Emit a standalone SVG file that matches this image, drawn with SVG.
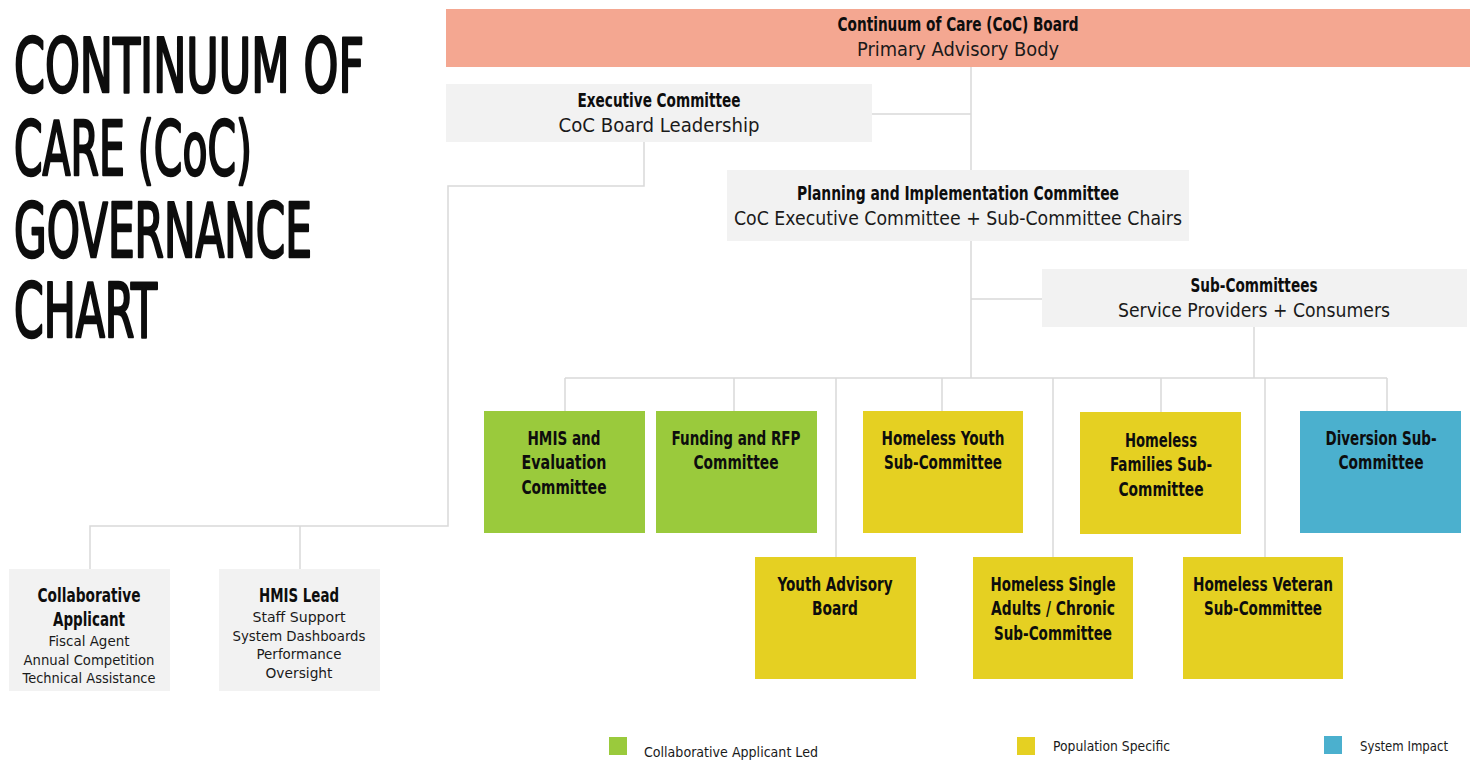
<svg xmlns="http://www.w3.org/2000/svg" width="1477" height="762" viewBox="0 0 1477 762">
  <style>
    .title { font-family: "Liberation Sans Narrow", "DejaVu Sans Condensed", "Liberation Sans", sans-serif; font-size: 74px; fill: #0d0d0d; stroke: #0d0d0d; stroke-width: 2.6; stroke-linejoin: round; }
    .b { font-family: "Liberation Sans Narrow", "DejaVu Sans Condensed", "Liberation Sans", sans-serif; font-weight: bold; font-size: 20px; fill: #0d0d0d; text-anchor: middle; }
    .b19 { font-size: 19px; }
    .r { font-family: "DejaVu Sans", "Liberation Sans", sans-serif; font-size: 19px; fill: #1a1a1a; text-anchor: middle; }
    .s { font-family: "DejaVu Sans", "Liberation Sans", sans-serif; font-size: 14px; fill: #1a1a1a; text-anchor: middle; }
    .lg { font-family: "Liberation Sans Narrow", "DejaVu Sans Condensed", "Liberation Sans", sans-serif; font-size: 14px; fill: #1a1a1a; }
    .gray { fill: #f2f2f2; }
    .board { fill: #f4a791; }
    .green { fill: #9aca3c; }
    .yellow { fill: #e5d022; }
    .blue { fill: #4bb0ce; }
    .conn { fill: none; stroke: #d9d9d9; stroke-width: 1.5; }
  </style>

  <rect width="1477" height="762" fill="#ffffff"/>

  <!-- heading -->
  <g id="title">
    <text class="title" x="14" y="92" textLength="350" lengthAdjust="spacingAndGlyphs">CONTINUUM OF</text>
    <text class="title" x="14" y="175" textLength="238" lengthAdjust="spacingAndGlyphs">CARE (CoC)</text>
    <text class="title" x="14" y="257" textLength="298" lengthAdjust="spacingAndGlyphs">GOVERNANCE</text>
    <text class="title" x="14" y="337" textLength="143" lengthAdjust="spacingAndGlyphs">CHART</text>
  </g>

  <!-- connectors -->
  <g id="connectors">
    <path class="conn" d="M971,67 V378"/>
    <path class="conn" d="M872,114 H971"/>
    <path class="conn" d="M971,299 H1042"/>
    <path class="conn" d="M1254,327 V378"/>
    <path class="conn" d="M565,378 H1387"/>
    <path class="conn" d="M565,378 V411 M734,378 V411 M942,378 V411 M1161,378 V413 M1387,378 V411"/>
    <path class="conn" d="M836,378 V557 M1053,378 V557 M1265,378 V557"/>
    <path class="conn" d="M644,142 V186 H448 V526 H90 V569"/>
    <path class="conn" d="M300,526 V569"/>
  </g>

  <g id="coc-board">
    <rect class="board" x="446" y="9" width="1024" height="58"/>
    <text class="b b19" x="958" y="31" textLength="241" lengthAdjust="spacingAndGlyphs">Continuum of Care (CoC) Board</text>
    <text class="r" x="958" y="56" textLength="202" lengthAdjust="spacingAndGlyphs">Primary Advisory Body</text>
  </g>

  <g id="executive-committee">
    <rect class="gray" x="446" y="84" width="426" height="58"/>
    <text class="b b19" x="659" y="107" textLength="163" lengthAdjust="spacingAndGlyphs">Executive Committee</text>
    <text class="r" x="659" y="132" textLength="201" lengthAdjust="spacingAndGlyphs">CoC Board Leadership</text>
  </g>

  <g id="planning-committee">
    <rect class="gray" x="727" y="170" width="462" height="71"/>
    <text class="b b19" x="958" y="200" textLength="322" lengthAdjust="spacingAndGlyphs">Planning and Implementation Committee</text>
    <text class="r" x="958" y="225" textLength="448" lengthAdjust="spacingAndGlyphs">CoC Executive Committee + Sub-Committee Chairs</text>
  </g>

  <g id="sub-committees">
    <rect class="gray" x="1042" y="269" width="425" height="58"/>
    <text class="b b19" x="1254" y="292" textLength="127" lengthAdjust="spacingAndGlyphs">Sub-Committees</text>
    <text class="r" x="1254" y="317" textLength="272" lengthAdjust="spacingAndGlyphs">Service Providers + Consumers</text>
  </g>

  <g id="hmis-evaluation">
    <rect class="green" x="484" y="411" width="161" height="122"/>
    <text class="b" x="564" y="445" textLength="73" lengthAdjust="spacingAndGlyphs">HMIS and</text>
    <text class="b" x="564" y="469" textLength="85" lengthAdjust="spacingAndGlyphs">Evaluation</text>
    <text class="b" x="564" y="494" textLength="85" lengthAdjust="spacingAndGlyphs">Committee</text>
  </g>

  <g id="funding-rfp">
    <rect class="green" x="656" y="411" width="161" height="122"/>
    <text class="b" x="736" y="445" textLength="129" lengthAdjust="spacingAndGlyphs">Funding and RFP</text>
    <text class="b" x="736" y="469" textLength="85" lengthAdjust="spacingAndGlyphs">Committee</text>
  </g>

  <g id="homeless-youth">
    <rect class="yellow" x="863" y="411" width="160" height="122"/>
    <text class="b" x="943" y="445" textLength="123" lengthAdjust="spacingAndGlyphs">Homeless Youth</text>
    <text class="b" x="943" y="469" textLength="118" lengthAdjust="spacingAndGlyphs">Sub-Committee</text>
  </g>

  <g id="homeless-families">
    <rect class="yellow" x="1080" y="412" width="161" height="122"/>
    <text class="b" x="1161" y="447" textLength="72" lengthAdjust="spacingAndGlyphs">Homeless</text>
    <text class="b" x="1161" y="471" textLength="102" lengthAdjust="spacingAndGlyphs">Families Sub-</text>
    <text class="b" x="1161" y="496" textLength="85" lengthAdjust="spacingAndGlyphs">Committee</text>
  </g>

  <g id="diversion">
    <rect class="blue" x="1300" y="411" width="161" height="122"/>
    <text class="b" x="1381" y="445" textLength="111" lengthAdjust="spacingAndGlyphs">Diversion Sub-</text>
    <text class="b" x="1381" y="469" textLength="85" lengthAdjust="spacingAndGlyphs">Committee</text>
  </g>

  <g id="youth-advisory-board">
    <rect class="yellow" x="755" y="557" width="161" height="122"/>
    <text class="b" x="835" y="591" textLength="115" lengthAdjust="spacingAndGlyphs">Youth Advisory</text>
    <text class="b" x="835" y="615" textLength="46" lengthAdjust="spacingAndGlyphs">Board</text>
  </g>

  <g id="homeless-single-adults">
    <rect class="yellow" x="973" y="557" width="160" height="122"/>
    <text class="b" x="1053" y="591" textLength="125" lengthAdjust="spacingAndGlyphs">Homeless Single</text>
    <text class="b" x="1053" y="615" textLength="124" lengthAdjust="spacingAndGlyphs">Adults / Chronic</text>
    <text class="b" x="1053" y="640" textLength="118" lengthAdjust="spacingAndGlyphs">Sub-Committee</text>
  </g>

  <g id="homeless-veteran">
    <rect class="yellow" x="1183" y="557" width="160" height="122"/>
    <text class="b" x="1263" y="591" textLength="140" lengthAdjust="spacingAndGlyphs">Homeless Veteran</text>
    <text class="b" x="1263" y="615" textLength="118" lengthAdjust="spacingAndGlyphs">Sub-Committee</text>
  </g>

  <g id="collaborative-applicant">
    <rect class="gray" x="9" y="569" width="161" height="122"/>
    <text class="b" x="89" y="602" textLength="103" lengthAdjust="spacingAndGlyphs">Collaborative</text>
    <text class="b" x="89" y="626" textLength="72" lengthAdjust="spacingAndGlyphs">Applicant</text>
    <text class="s" x="89" y="646" textLength="81" lengthAdjust="spacingAndGlyphs">Fiscal Agent</text>
    <text class="s" x="89" y="665" textLength="131" lengthAdjust="spacingAndGlyphs">Annual Competition</text>
    <text class="s" x="89" y="683" textLength="133" lengthAdjust="spacingAndGlyphs">Technical Assistance</text>
  </g>

  <g id="hmis-lead">
    <rect class="gray" x="219" y="569" width="161" height="122"/>
    <text class="b" x="299" y="602" textLength="80" lengthAdjust="spacingAndGlyphs">HMIS Lead</text>
    <text class="s" x="299" y="622" textLength="93" lengthAdjust="spacingAndGlyphs">Staff Support</text>
    <text class="s" x="299" y="641" textLength="133" lengthAdjust="spacingAndGlyphs">System Dashboards</text>
    <text class="s" x="299" y="659" textLength="85" lengthAdjust="spacingAndGlyphs">Performance</text>
    <text class="s" x="299" y="678" textLength="67" lengthAdjust="spacingAndGlyphs">Oversight</text>
  </g>

  <!-- key -->
  <g id="legend">
    <rect class="green" x="609" y="737" width="18" height="18"/>
    <text class="lg" x="644" y="757" textLength="174" lengthAdjust="spacingAndGlyphs">Collaborative Applicant Led</text>
    <rect class="yellow" x="1017" y="737" width="18" height="18"/>
    <text class="lg" x="1053" y="751" textLength="117" lengthAdjust="spacingAndGlyphs">Population Specific</text>
    <rect class="blue" x="1324" y="736" width="18" height="18"/>
    <text class="lg" x="1360" y="751" textLength="88" lengthAdjust="spacingAndGlyphs">System Impact</text>
  </g>
</svg>
